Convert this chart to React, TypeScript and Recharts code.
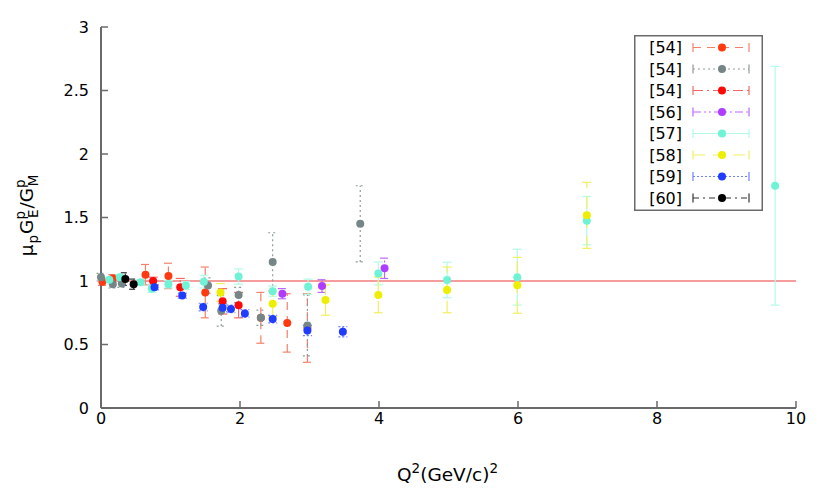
import {
  ScatterChart,
  Scatter,
  XAxis,
  YAxis,
  ErrorBar,
  ReferenceLine,
  Legend,
  Label,
} from "recharts";

// Q^2 (GeV/c)^2, ratio mu_p G_E/G_M, error
const s54a = [
  { q2: 0.02, r: 0.995, err: 0.03 },
  { q2: 0.17, r: 1.02, err: 0.03 },
  { q2: 0.64, r: 1.05, err: 0.08 },
  { q2: 0.97, r: 1.04, err: 0.1 },
  { q2: 1.5, r: 0.91, err: 0.2 },
  { q2: 2.3, r: 0.71, err: 0.2 },
  { q2: 2.68, r: 0.67, err: 0.23 },
  { q2: 2.97, r: 0.63, err: 0.27 },
];

const s54b = [
  { q2: 0.0, r: 1.03, err: 0.03 },
  { q2: 0.17, r: 0.975, err: 0.03 },
  { q2: 0.3, r: 0.98, err: 0.03 },
  { q2: 1.54, r: 0.965, err: 0.06 },
  { q2: 1.73, r: 0.765, err: 0.12 },
  { q2: 1.98, r: 0.89, err: 0.06 },
  { q2: 2.3, r: 0.71, err: 0.06 },
  { q2: 2.47, r: 1.15, err: 0.23 },
  { q2: 2.97, r: 0.65, err: 0.24 },
  { q2: 3.73, r: 1.45, err: 0.3 },
];

const s54c = [
  { q2: 0.75, r: 1.0, err: 0.03 },
  { q2: 1.14, r: 0.95, err: 0.07 },
  { q2: 1.75, r: 0.84, err: 0.1 },
  { q2: 1.98, r: 0.81, err: 0.1 },
];

const s56 = [
  { q2: 2.61, r: 0.9, err: 0.04 },
  { q2: 3.18, r: 0.96, err: 0.05 },
  { q2: 4.08, r: 1.1, err: 0.08 },
];

const s57 = [
  { q2: 0.12, r: 1.01, err: 0.02 },
  { q2: 0.27, r: 1.03, err: 0.02 },
  { q2: 0.57, r: 0.99, err: 0.02 },
  { q2: 0.73, r: 0.94, err: 0.03 },
  { q2: 0.97, r: 0.975, err: 0.03 },
  { q2: 1.22, r: 0.965, err: 0.03 },
  { q2: 1.48, r: 0.995, err: 0.05 },
  { q2: 1.98, r: 1.035, err: 0.06 },
  { q2: 2.47, r: 0.92, err: 0.04 },
  { q2: 2.98, r: 0.955, err: 0.06 },
  { q2: 3.99, r: 1.06, err: 0.09 },
  { q2: 4.98, r: 1.008, err: 0.14 },
  { q2: 5.99, r: 1.03, err: 0.22 },
  { q2: 6.99, r: 1.475, err: 0.19 },
  { q2: 9.7, r: 1.75, err: 0.94 },
];

const s58 = [
  { q2: 1.72, r: 0.91, err: 0.07 },
  { q2: 2.47, r: 0.82, err: 0.1 },
  { q2: 3.23, r: 0.85, err: 0.12 },
  { q2: 3.99, r: 0.89, err: 0.14 },
  { q2: 4.98, r: 0.93, err: 0.18 },
  { q2: 5.99, r: 0.966, err: 0.22 },
  { q2: 6.99, r: 1.517, err: 0.26 },
];

const s59 = [
  { q2: 0.77, r: 0.95, err: 0.02 },
  { q2: 1.17, r: 0.885, err: 0.02 },
  { q2: 1.47, r: 0.795, err: 0.03 },
  { q2: 1.75, r: 0.79, err: 0.03 },
  { q2: 1.87, r: 0.78, err: 0.03 },
  { q2: 2.07, r: 0.745, err: 0.03 },
  { q2: 2.47, r: 0.7, err: 0.03 },
  { q2: 2.97, r: 0.61, err: 0.04 },
  { q2: 3.48, r: 0.6, err: 0.04 },
];

const s60 = [
  { q2: 0.35, r: 1.015, err: 0.05 },
  { q2: 0.47, r: 0.975, err: 0.04 },
];

const xTicks = [0, 2, 4, 6, 8, 10];
const yTicks = [0, 0.5, 1, 1.5, 2, 2.5, 3];

const series = [
  { name: "[54]", dot: "#ff3a10", bar: "#f4806a", dash: "8 6", data: s54a },
  { name: "[54]", dot: "#768686", bar: "#8f9c9c", dash: "2 3", data: s54b },
  { name: "[54]", dot: "#ff0808", bar: "#f06868", dash: "10 4 2 4", data: s54c },
  { name: "[56]", dot: "#b03cff", bar: "#bf66ff", dash: "8 3 2 3 2 3", data: s56 },
  { name: "[57]", dot: "#6ff2d6", bar: "#b2fbe6", dash: undefined, data: s57 },
  { name: "[58]", dot: "#eeee00", bar: "#f0f060", dash: "12 8", data: s58 },
  { name: "[59]", dot: "#1f3cff", bar: "#6f80ff", dash: "2 2", data: s59 },
  { name: "[60]", dot: "#000000", bar: "#333333", dash: "6 4 2 4", data: s60 },
];

const FRAME = "#6a6a6a";

function LegendBox() {
  return (
    <svg width={129} height={176} style={{ display: "block" }}>
      <rect x={0.75} y={0.75} width={127.5} height={174.5} fill="#fff" stroke={FRAME} strokeWidth={1.5} />
      {series.map((s, i) => {
        const cy = 12.5 + i * 21.5;
        return (
          <g key={i}>
            <text x={48} y={cy + 5.5} textAnchor="end" fontSize={16} fill="#000">
              {s.name}
            </text>
            <line x1={59} x2={115} y1={cy} y2={cy} stroke={s.bar} strokeWidth={1.2} strokeDasharray={s.dash} />
            <line x1={59} x2={59} y1={cy - 4.5} y2={cy + 4.5} stroke={s.bar} strokeWidth={1.2} />
            <line x1={115} x2={115} y1={cy - 4.5} y2={cy + 4.5} stroke={s.bar} strokeWidth={1.2} />
            <circle cx={88} cy={cy} r={4} fill={s.dot} />
          </g>
        );
      })}
    </svg>
  );
}

function XTitle(props: any) {
  const { x, width } = props.viewBox;
  return (
    <text x={x + width / 2 - 1} y={481} textAnchor="middle" fontSize={18.5} fill="#000">
      Q<tspan fontSize={13.5} dy={-8}>2</tspan>
      <tspan dy={8}>(GeV/c)</tspan>
      <tspan fontSize={13.5} dy={-8}>2</tspan>
    </text>
  );
}

function YTitle(props: any) {
  const { y, height } = props.viewBox;
  const cy = y + height / 2 - 2;
  return (
    <text x={0} y={0} textAnchor="middle" fontSize={18.5} fill="#000" transform={`translate(33,${cy}) rotate(-90)`}>
      μ<tspan fontSize={13.5} dx={1} dy={5}>p</tspan>
      <tspan dx={1} dy={-5}>G</tspan>
      <tspan fontSize={13.5} dy={-8}>p</tspan>
      <tspan fontSize={13.5} dx={-7} dy={13}>E</tspan>
      <tspan dx={1} dy={-5}>/G</tspan>
      <tspan fontSize={13.5} dy={-8}>p</tspan>
      <tspan fontSize={13.5} dx={-7} dy={13}>M</tspan>
    </text>
  );
}

export default function App() {
  return (
    <div style={{ position: "absolute", left: 0, top: 0, fontFamily: "DejaVu Sans" }}>
      <ScatterChart width={830} height={498} margin={{ top: 27, right: 34, bottom: 50, left: 41 }}>
        <XAxis
          type="number"
          dataKey="q2"
          domain={[0, 10]}
          ticks={xTicks}
          height={40}
          tickSize={-7}
          tickMargin={12}
          tick={{ fill: "#000", fontSize: 16 }}
          axisLine={{ stroke: FRAME, strokeWidth: 2 }}
          tickLine={{ stroke: FRAME, strokeWidth: 1.5 }}
        >
          <Label content={XTitle} />
        </XAxis>
        <XAxis
          xAxisId="top"
          orientation="top"
          type="number"
          domain={[0, 10]}
          ticks={xTicks}
          height={0}
          tickSize={-7}
          tick={false}
          axisLine={{ stroke: FRAME, strokeWidth: 2 }}
          tickLine={{ stroke: FRAME, strokeWidth: 1.5 }}
        />
        <YAxis
          type="number"
          dataKey="r"
          domain={[0, 3]}
          ticks={yTicks}
          width={60}
          tickSize={-7}
          tickMargin={19}
          allowDataOverflow
          tick={{ fill: "#000", fontSize: 16 }}
          axisLine={{ stroke: FRAME, strokeWidth: 2 }}
          tickLine={{ stroke: FRAME, strokeWidth: 1.5 }}
        >
          <Label content={YTitle} />
        </YAxis>
        <YAxis
          yAxisId="right"
          orientation="right"
          type="number"
          domain={[0, 3]}
          ticks={yTicks}
          width={0}
          tickSize={-7}
          tick={false}
          axisLine={{ stroke: FRAME, strokeWidth: 2 }}
          tickLine={{ stroke: FRAME, strokeWidth: 1.5 }}
        />
        <ReferenceLine y={1} stroke="#f59c9c" strokeWidth={2} />
        {series.map((s, i) => (
          <Scatter
            key={i}
            name={s.name}
            data={s.data}
            isAnimationActive={false}
            shape={(p: any) => <circle cx={p.cx} cy={p.cy} r={4} fill={s.dot} />}
          >
            <ErrorBar
              dataKey="err"
              direction="y"
              width={4.5}
              stroke={s.bar}
              strokeWidth={1.2}
              strokeDasharray={s.dash}
              isAnimationActive={false}
            />
          </Scatter>
        ))}
        <Legend
          layout="horizontal"
          align="center"
          verticalAlign="middle"
          wrapperStyle={{ left: 634, top: 35, width: 129, height: 176 }}
          content={() => <LegendBox />}
        />
      </ScatterChart>
    </div>
  );
}
